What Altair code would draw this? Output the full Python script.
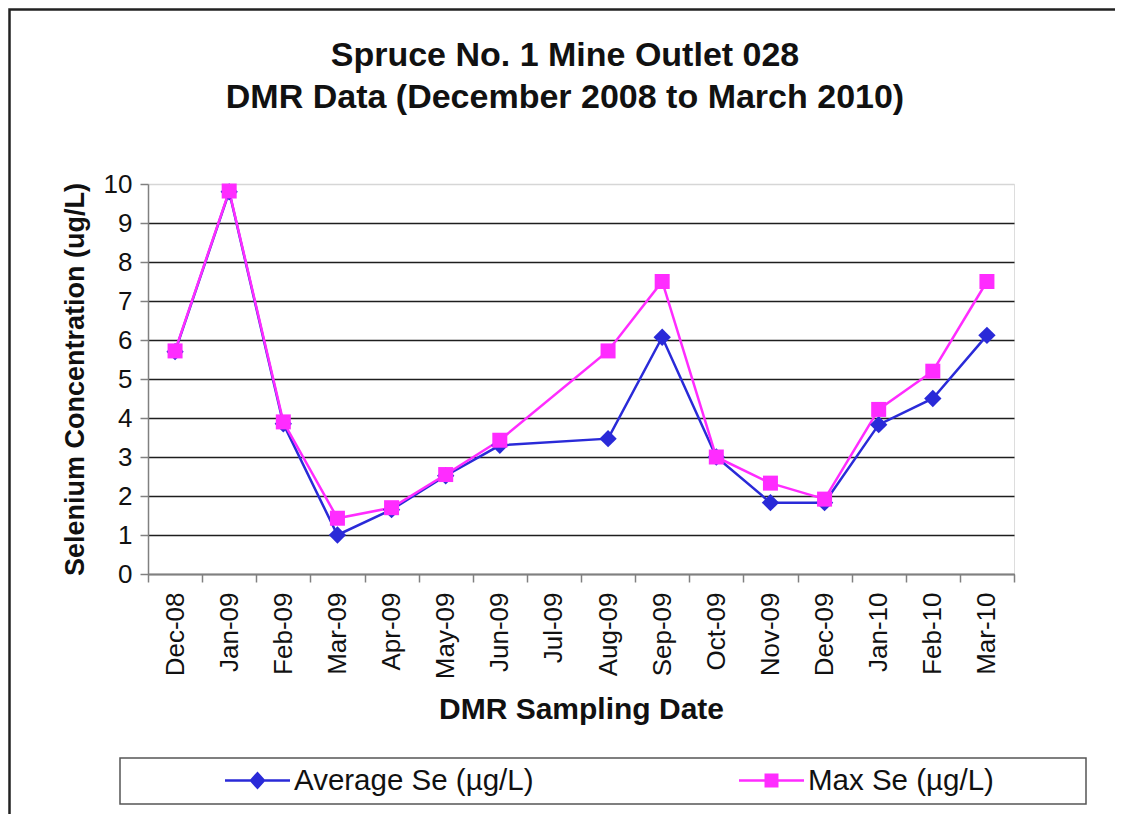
import altair as alt
import pandas as pd

# ---- data ----
months = ["Dec-08", "Jan-09", "Feb-09", "Mar-09", "Apr-09", "May-09", "Jun-09", "Jul-09",
          "Aug-09", "Sep-09", "Oct-09", "Nov-09", "Dec-09", "Jan-10", "Feb-10", "Mar-10"]
avg_se = [5.70, 9.80, 3.85, 1.00, 1.65, 2.52, 3.30, None, 3.47, 6.07, 3.00, 1.83, 1.83, 3.83, 4.50, 6.12]
max_se = [5.72, 9.82, 3.90, 1.43, 1.70, 2.55, 3.43, None, 5.72, 7.50, 3.00, 2.33, 1.92, 4.22, 5.20, 7.50]
series_names = ["Average Se (µg/L)", "Max Se (µg/L)"]
series_colors = ["#2a2ad8", "#ff2cff"]
y_ticks = [0, 1, 2, 3, 4, 5, 6, 7, 8, 9, 10]

rows = []
for m, a, mx in zip(months, avg_se, max_se):
    if a is not None:
        rows.append({"month": m, "series": series_names[0], "value": a})
    if mx is not None:
        rows.append({"month": m, "series": series_names[1], "value": mx})
df = pd.DataFrame(rows)

FONT = "Liberation Sans"
TXT = "#111111"
AX = "#808080"

x_enc = alt.X(
    "month:N",
    scale=alt.Scale(domain=months, paddingInner=0, paddingOuter=0),
    axis=alt.Axis(
        title="DMR Sampling Date", labelAngle=-90, tickBand="extent",
        labelFont=FONT, labelFontSize=26, labelColor=TXT, labelPadding=10,
        tickSize=8, tickColor=AX, tickWidth=1.5, domainColor=AX, domainWidth=1.5,
        titleFont=FONT, titleFontSize=30, titleFontWeight="bold", titleColor=TXT,
        titlePadding=16, grid=False,
    ),
)
y_enc = alt.Y(
    "value:Q",
    scale=alt.Scale(domain=[0, 10], nice=False),
    axis=alt.Axis(
        title="Selenium Concentration (ug/L)", values=y_ticks,
        labelFont=FONT, labelFontSize=26, labelColor=TXT, labelPadding=8,
        tickSize=8, tickColor=AX, tickWidth=1.5, domainColor=AX, domainWidth=1.5,
        gridColor={"condition": {"test": "datum.value === 10", "value": "#d6d6d6"}, "value": "#1e1e1e"},
        gridWidth=1.3,
        titleFont=FONT, titleFontSize=27, titleFontWeight="bold", titleColor=TXT,
        titlePadding=14,
    ),
)

# legend symbols: a short line with the marker on it (filled paths)
avg_path = "M-1,-0.036L1,-0.036L1,0.036L-1,0.036ZM0,-0.28L0.25,0L0,0.28L-0.25,0Z"
max_path = "M-1,-0.036L1,-0.036L1,0.036L-1,0.036ZM-0.215,-0.215L0.215,-0.215L0.215,0.215L-0.215,0.215Z"

color_scale = alt.Scale(domain=series_names, range=series_colors)
shape_scale = alt.Scale(domain=series_names, range=[avg_path, max_path])


def make_legend():
    return alt.Legend(
        title=None, orient="none", legendX=77, legendY=564, direction="horizontal",
        columns=2, columnPadding=205, padding=0,
        labelFont=FONT, labelFontSize=29.5, labelColor=TXT, labelLimit=500, labelOffset=4,
        symbolSize=4225, symbolStrokeWidth=0, symbolOpacity=1,
    )


base = alt.Chart(df)
lines = base.mark_line(strokeWidth=2.5).encode(
    x=x_enc, y=y_enc,
    color=alt.Color("series:N", scale=color_scale, legend=None),
    detail="series:N",
)
pts_avg = base.transform_filter(alt.datum.series == series_names[0]).mark_point(
    shape="diamond", filled=True, size=300, opacity=1
).encode(x=x_enc, y=y_enc, color=alt.Color("series:N", scale=color_scale, legend=None))
pts_max = base.transform_filter(alt.datum.series == series_names[1]).mark_point(
    shape="square", filled=True, size=225, opacity=1
).encode(x=x_enc, y=y_enc, color=alt.Color("series:N", scale=color_scale, legend=None))

# legend-only layer (no rows drawn): carries the combined colour/shape legend
legend_layer = base.transform_filter("false").mark_point(filled=True, opacity=1).encode(
    x=x_enc, y=y_enc,
    color=alt.Color("series:N", scale=color_scale, legend=make_legend()),
    shape=alt.Shape("series:N", scale=shape_scale, legend=make_legend()),
)

frame_df = pd.DataFrame({"k": [0]})
outer = alt.Chart(frame_df).mark_rect(fillOpacity=0, stroke="#222222", strokeWidth=2.5).encode(
    x=alt.value(-138.5), x2=alt.value(990), y=alt.value(-174.5), y2=alt.value(660)
)
legend_box = alt.Chart(frame_df).mark_rect(fillOpacity=0, stroke="#555555", strokeWidth=1.5).encode(
    x=alt.value(-28), x2=alt.value(938), y=alt.value(574), y2=alt.value(620)
)

chart = alt.layer(lines, pts_avg, pts_max, legend_layer, legend_box, outer).properties(
    width=866, height=390,
    autosize=alt.AutoSizeParams(type="none"),
    padding={"left": 140, "top": 176, "right": 101, "bottom": 240},
    title=alt.TitleParams(
        text=["Spruce No. 1 Mine Outlet 028", "DMR Data (December 2008 to March 2010)"],
        font=FONT, fontSize=34, fontWeight="bold", color=TXT, anchor="middle",
        dx=-16, dy=107, lineHeight=42, offset=0,
    ),
).resolve_legend(color="independent", shape="independent").configure_view(
    stroke="#d6d6d6", strokeWidth=2
).configure(background="white")

chart.save("out.html", embed_options={"renderer": "svg", "actions": False})
